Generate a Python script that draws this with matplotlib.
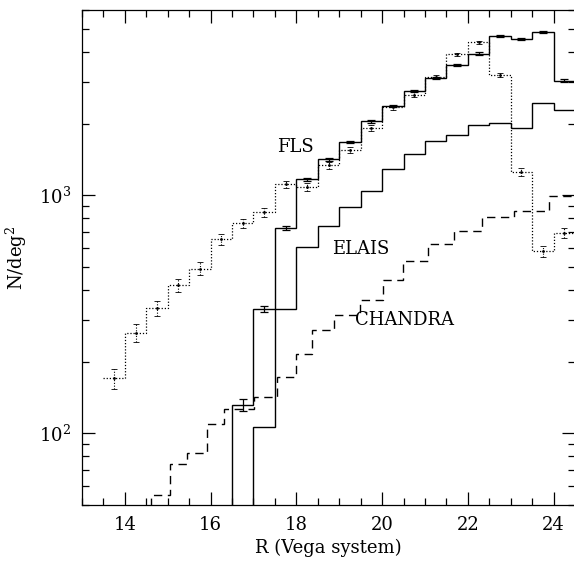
import matplotlib.pyplot as plt
from matplotlib.ticker import MultipleLocator, LogLocator, NullFormatter, LogFormatterSciNotation

plt.rcParams['font.family'] = ['DejaVu Serif']
plt.rcParams['mathtext.fontset'] = 'dejavuserif'
plt.rcParams['font.size'] = 13

# FLS counts (solid, with error bars)
fls_edges = [16.5, 17.0, 17.5, 18.0, 18.5, 19.0, 19.5, 20.0, 20.5, 21.0,
             21.5, 22.0, 22.5, 23.0, 23.5, 24.0, 24.5]
fls_counts = [132, 332, 727, 1167, 1417, 1675, 2046, 2372, 2742, 3110,
              3517, 3938, 4656, 4536, 4830, 3034]
fls_err = [8, 10, 14, 18, 20, 22, 25, 28, 30, 33, 36, 40, 45, 45, 48, 40]

# second FLS estimate (dotted, with error bars)
dot_edges = [13.5, 14.0, 14.5, 15.0, 15.5, 16.0, 16.5, 17.0, 17.5, 18.0, 18.5,
             19.0, 19.5, 20.0, 20.5, 21.0, 21.5, 22.0, 22.5, 23.0, 23.5, 24.0, 24.5]
dot_counts = [170, 265, 335, 419, 492, 653, 763, 849, 1112, 1080, 1337,
              1546, 1918, 2345, 2649, 3140, 3909, 4385, 3191, 1253, 582, 697]
dot_err = [17, 22, 25, 28, 30, 33, 35, 37, 40, 42, 45,
           48, 50, 55, 58, 62, 65, 70, 65, 45, 30, 35]

# ELAIS counts (solid)
elais_edges = [17.0, 17.5, 18.0, 18.5, 19.0, 19.5, 20.0, 20.5, 21.0, 21.5,
               22.0, 22.5, 23.0, 23.5, 24.0, 24.5]
elais_counts = [106, 332, 605, 743, 893, 1043, 1286, 1496, 1691, 1787,
                1982, 2019, 1918, 2444, 2275]

# CHANDRA counts (dashed)
chandra_edges = [14.62, 15.05, 15.46, 15.92, 16.31, 17.01, 17.56, 17.99, 18.36,
                 18.88, 19.48, 20.01, 20.49, 21.06, 21.68, 22.32, 23.08, 23.89, 24.5]
chandra_counts = [55, 74, 83, 109, 127, 142, 173, 216, 271,
                  313, 362, 440, 528, 622, 708, 811, 858, 990]


def centers(edges):
    return [(a + b) / 2 for a, b in zip(edges[:-1], edges[1:])]


fig = plt.figure(figsize=(5.74, 5.61), dpi=100)
ax = fig.add_axes([82 / 574, 56 / 561, 493 / 574, 495 / 561])
ax.set_yscale('log')

ax.stairs(fls_counts, fls_edges, baseline=1, color='black', lw=1.0)
ax.errorbar(centers(fls_edges), fls_counts, yerr=fls_err, fmt='none',
            ecolor='black', elinewidth=0.9, capsize=3, capthick=0.9)

ax.stairs(elais_counts, elais_edges, baseline=1, color='black', lw=1.0)

ax.stairs(dot_counts, dot_edges, baseline=None, color='black', lw=0.9,
          linestyle=(0, (1, 1.5)))
eb = ax.errorbar(centers(dot_edges), dot_counts, yerr=dot_err, fmt='.',
                 ms=2, color='black', ecolor='black', elinewidth=0.8,
                 capsize=2.5, capthick=0.6)
eb[2][0].set_linestyle((0, (1, 1.5)))

ax.stairs(chandra_counts, chandra_edges, baseline=1, color='black', lw=1.0,
          linestyle=(0, (6, 4)))

ax.text(17.99, 1592, 'FLS', ha='center', va='center')
ax.text(19.51, 593, 'ELAIS', ha='center', va='center')
ax.text(20.53, 298, 'CHANDRA', ha='center', va='center')

ax.set_xlim(13, 24.5)
ax.set_ylim(50, 6000)
ax.xaxis.set_major_locator(MultipleLocator(2))
ax.xaxis.set_minor_locator(MultipleLocator(0.5))
ax.yaxis.set_major_locator(LogLocator(base=10))
ax.yaxis.set_major_formatter(LogFormatterSciNotation())
ax.yaxis.set_minor_locator(LogLocator(base=10, subs=range(2, 10)))
ax.yaxis.set_minor_formatter(NullFormatter())
ax.tick_params(which='both', direction='in', top=True, right=True, width=0.9)
ax.tick_params(which='major', length=9.5, pad=8)
ax.tick_params(which='minor', length=4.7)
for s in ax.spines.values():
    s.set_linewidth(0.9)

ax.set_xlabel('R (Vega system)', labelpad=3)
ax.set_ylabel('N/deg$^2$', labelpad=7)

fig.savefig('out.png', dpi=100)
